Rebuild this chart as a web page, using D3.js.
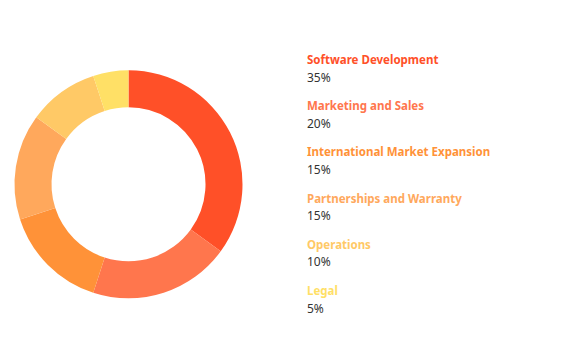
<!DOCTYPE html>
<html>
<head>
<meta charset="utf-8">
<script src="https://cdn.jsdelivr.net/npm/d3@7"></script>
<style>
  body { margin: 0; background: #fff; }
  text { font-family: "Noto Sans", sans-serif; }
</style>
</head>
<body>
<div id="chart"></div>
<script>
  var categories = ["Software Development", "Marketing and Sales", "International Market Expansion", "Partnerships and Warranty", "Operations", "Legal"],
      shares = [35, 20, 15, 15, 10, 5],
      colors = ["#FF5028", "#FF764D", "#FF9238", "#FFA85C", "#FFC966", "#FFE066"];

  var width = 565,
      height = 363,
      cx = 128.5,
      cy = 184.3,
      outerR = 114,
      innerR = 77,
      legendX = 307,
      legendTop = 64,
      legendStep = 46.2;

  const svg = d3.select("#chart").append("svg")
      .attr("width", width)
      .attr("height", height);

  var pie = d3.pie().sort(null).value(function(d) { return d; });
  var arc = d3.arc().innerRadius(innerR).outerRadius(outerR);

  svg.append("g")
      .attr("transform", "translate(" + cx + "," + cy + ")")
      .selectAll("path")
      .data(pie(shares))
      .enter().append("path")
      .attr("d", arc)
      .attr("fill", function(d, i) { return colors[i]; });

  var y = d3.scaleLinear().domain([0, 1]).range([legendTop, legendTop + legendStep]);

  var legend = svg.selectAll(".legend")
      .data(categories)
      .enter().append("g")
      .attr("class", "legend")
      .attr("transform", function(d, i) { return "translate(" + legendX + "," + y(i) + ")"; });

  legend.append("text")
      .attr("font-size", 11.5)
      .attr("font-weight", "bold")
      .attr("fill", function(d, i) { return colors[i]; })
      .text(function(d) { return d; });

  legend.append("text")
      .attr("y", 17.5)
      .attr("font-size", 12)
      .attr("fill", "#333")
      .text(function(d, i) { return shares[i] + "%"; });
</script>
</body>
</html>
